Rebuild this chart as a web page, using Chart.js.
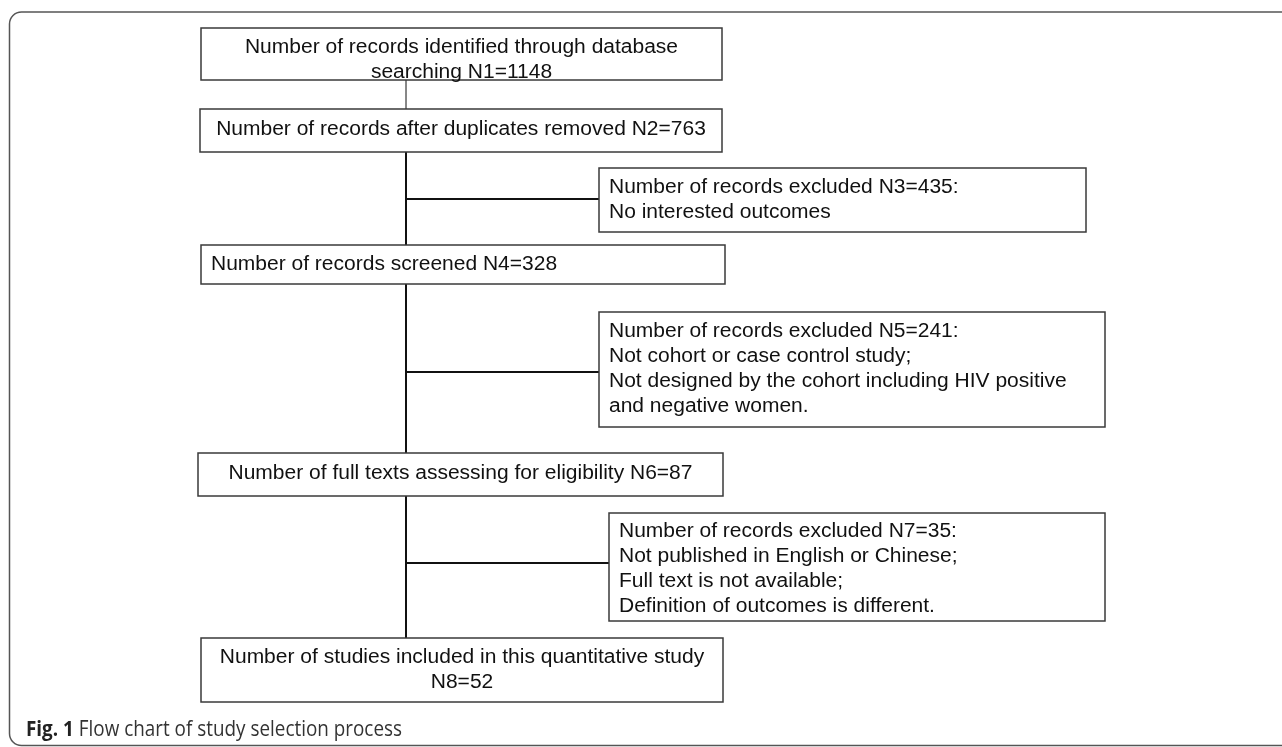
<!DOCTYPE html>
<html>
<head>
<meta charset="utf-8">
<script src="https://cdn.jsdelivr.net/npm/chart.js@4.4.1/dist/chart.umd.min.js"></script>
<style>
  html, body { margin: 0; padding: 0; background: #fff; }
  #wrap { width: 1282px; height: 747px; }
</style>
</head>
<body>
<div id="wrap"><canvas id="flow" width="1282" height="747"></canvas></div>
<script>
// record counts at each step of the selection
const counts = [1148, 763, 435, 328, 241, 87, 35, 52];

const stepText = [
    ['Number of records identified through database', 'searching N1=' + counts[0]],
    ['Number of records after duplicates removed N2=' + counts[1]],
    ['Number of records excluded N3=' + counts[2] + ':', 'No interested outcomes'],
    ['Number of records screened N4=' + counts[3]],
    ['Number of records excluded N5=' + counts[4] + ':', 'Not cohort or case control study;',
     'Not designed by the cohort including HIV positive', 'and negative women.'],
    ['Number of full texts assessing for eligibility N6=' + counts[5]],
    ['Number of records excluded N7=' + counts[6] + ':', 'Not published in English or Chinese;',
     'Full text is not available;', 'Definition of outcomes is different.'],
    ['Number of studies included in this quantitative study', 'N8=' + counts[7]]
];

const captionBold = 'Fig. 1';
const captionText = ' Flow chart of study selection process';

// layout (page units): box corners, first text line, alignment
const boxes = [
    { x0: 201, y0: 28,  x1: 722,  y1: 80,  ty: 47,  align: 'center' },
    { x0: 200, y0: 109, x1: 722,  y1: 152, ty: 129, align: 'center' },
    { x0: 599, y0: 168, x1: 1086, y1: 232, ty: 187, align: 'left' },
    { x0: 201, y0: 245, x1: 725,  y1: 284, ty: 264, align: 'left' },
    { x0: 599, y0: 312, x1: 1105, y1: 427, ty: 331, align: 'left' },
    { x0: 198, y0: 453, x1: 723,  y1: 496, ty: 473, align: 'center' },
    { x0: 609, y0: 513, x1: 1105, y1: 621, ty: 531, align: 'left' },
    { x0: 201, y0: 638, x1: 723,  y1: 702, ty: 657, align: 'center' }
];
const trunkX = 406;
const branchY = [199, 372, 563]; // side branches to boxes 3, 5, 7
const lineGap = 25;

const pt = (x, y) => ({ x: x, y: y });
function seg(a, b, w, c) {
    return { type: 'line', data: [a, b], borderColor: c, borderWidth: w,
             pointRadius: 0, fill: false, tension: 0 };
}

const datasets = [
    seg(pt(trunkX, boxes[0].y1), pt(trunkX, boxes[1].y0), 1, '#777'),
    seg(pt(trunkX, boxes[1].y1), pt(trunkX, boxes[7].y0), 2, '#111'),
    seg(pt(trunkX, branchY[0]), pt(boxes[2].x0, branchY[0]), 2, '#111'),
    seg(pt(trunkX, branchY[1]), pt(boxes[4].x0, branchY[1]), 2, '#111'),
    seg(pt(trunkX, branchY[2]), pt(boxes[6].x0, branchY[2]), 2, '#111')
];

const flowBoxes = {
    id: 'flowBoxes',
    beforeDatasetsDraw(chart) {
        const {ctx, scales: {x, y}} = chart;
        // outer panel with rounded corners, open on the right
        const l = x.getPixelForValue(9.5), t = y.getPixelForValue(12);
        const r = x.getPixelForValue(1300), b = y.getPixelForValue(745.5);
        ctx.save();
        ctx.strokeStyle = '#555';
        ctx.lineWidth = 1.5;
        ctx.beginPath();
        ctx.roundRect(l, t, r - l, b - t, 12);
        ctx.stroke();
        ctx.restore();
    },
    afterDatasetsDraw(chart) {
        const {ctx, scales: {x, y}} = chart;
        const stretch = 21 / 19.5;
        ctx.save();
        ctx.font = '19.5px "Liberation Sans", Arial, sans-serif';
        boxes.forEach((bx, i) => {
            const l = x.getPixelForValue(bx.x0), t = y.getPixelForValue(bx.y0);
            const r = x.getPixelForValue(bx.x1), b = y.getPixelForValue(bx.y1);
            ctx.fillStyle = '#fff';
            ctx.fillRect(l, t, r - l, b - t);
            ctx.strokeStyle = '#3a3a3a';
            ctx.lineWidth = 1.5;
            ctx.strokeRect(l, t, r - l, b - t);
            ctx.fillStyle = '#111';
            ctx.textBaseline = 'alphabetic';
            ctx.textAlign = bx.align;
            const tx = bx.align === 'center' ? (l + r) / 2 : l + 10;
            stepText[i].forEach((s, k) => {
                ctx.save();
                ctx.translate(tx, y.getPixelForValue(bx.ty + k * lineGap) + 6);
                ctx.scale(stretch, 1);
                ctx.fillText(s, 0, 0);
                ctx.restore();
            });
        });

        // caption
        const cx = x.getPixelForValue(26), cy = y.getPixelForValue(736);
        ctx.textAlign = 'left';
        ctx.fillStyle = '#222';
        ctx.font = 'bold 21px "Open Sans", sans-serif';
        const wb = ctx.measureText(captionBold).width;
        ctx.font = '21px "Open Sans", sans-serif';
        const wr = ctx.measureText(captionText).width;
        const squeeze = 376 / (wb + wr);
        ctx.translate(cx, cy);
        ctx.scale(squeeze, 1);
        ctx.font = 'bold 21px "Open Sans", sans-serif';
        ctx.fillText(captionBold, 0, 0);
        ctx.font = '21px "Open Sans", sans-serif';
        ctx.fillStyle = '#333';
        ctx.fillText(captionText, wb, 0);
        ctx.restore();
    }
};

new Chart(document.getElementById('flow').getContext('2d'), {
    type: 'line',
    data: { datasets: datasets },
    options: {
        responsive: false,
        animation: false,
        events: [],
        layout: { padding: 0 },
        scales: {
            x: { type: 'linear', min: 0, max: 1282, display: false },
            y: { type: 'linear', min: 0, max: 747, reverse: true, display: false }
        },
        plugins: { legend: { display: false }, tooltip: { enabled: false } }
    },
    plugins: [flowBoxes]
});
</script>
</body>
</html>
